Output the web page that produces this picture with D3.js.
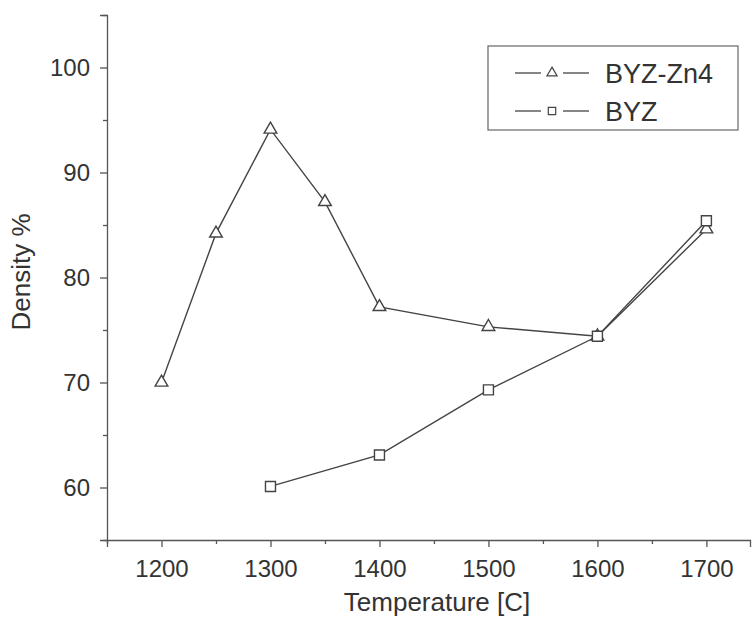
<!DOCTYPE html>
<html>
<head>
<meta charset="utf-8">
<script src="https://cdn.jsdelivr.net/npm/d3@7"></script>
<style>
  body { margin: 0; background: #fff; }
  svg text { font-family: 'Liberation Sans', Arial, sans-serif; fill: #333; }
</style>
</head>
<body>
<div id="chart"></div>
<script>
// Data
const tempsZn4 = [1200, 1250, 1300, 1350, 1400, 1500, 1600, 1700]
const densityZn4 = [70.0, 84.2, 94.1, 87.2, 77.2, 75.3, 74.4, 84.6]
const tempsByz = [1300, 1400, 1500, 1600, 1700]
const densityByz = [60.1, 63.1, 69.3, 74.4, 85.4]
const seriesNames = ['BYZ-Zn4', 'BYZ']
const xMajorTicks = [1200, 1300, 1400, 1500, 1600, 1700]
const xMinorTicks = [1150, 1250, 1350, 1450, 1550, 1650]
const yMajorTicks = [60, 70, 80, 90, 100]
const yMinorTicks = [55, 65, 75, 85, 95, 105]

const width = 754, height = 618
const ink = '#444'

const svg = d3.select('#chart').append('svg')
    .attr('width', width).attr('height', height)

const x = d3.scaleLinear().domain([1150, 1740]).range([107, 750])
const y = d3.scaleLinear().domain([55, 105]).range([540, 15])

// X axis
const xAxis = svg.append('g').attr('transform', `translate(0,${y(55)})`)
xAxis.call(d3.axisBottom(x).tickValues(xMajorTicks).tickSize(7).tickPadding(13).tickFormat(d3.format('d')))
xAxis.append('g').call(d3.axisBottom(x).tickValues(xMinorTicks).tickSize(4).tickFormat(''))
    .select('.domain').remove()
xAxis.selectAll('text').attr('font-size', '24px').attr('fill', '#333')

// Y axis
const yAxis = svg.append('g').attr('transform', `translate(${x(1150)},0)`)
yAxis.call(d3.axisLeft(y).tickValues(yMajorTicks).tickSize(7).tickPadding(10))
yAxis.append('g').call(d3.axisLeft(y).tickValues(yMinorTicks).tickSize(4).tickFormat(''))
    .select('.domain').remove()
yAxis.selectAll('text').attr('font-size', '24px').attr('fill', '#333')

svg.selectAll('.domain, .tick line').attr('stroke', '#555').attr('stroke-width', 1.3)

// Axis titles
svg.append('text')
    .attr('x', 437).attr('y', 611)
    .attr('text-anchor', 'middle').attr('font-size', '26px')
    .text('Temperature [C]')

svg.append('text')
    .attr('transform', 'translate(30,272) rotate(-90)')
    .attr('text-anchor', 'middle').attr('font-size', '26px')
    .text('Density %')

// Lines
const line = d3.line().x(d => x(d[0])).y(d => y(d[1]))
const zn4 = tempsZn4.map((t, i) => [t, densityZn4[i]])
const byz = tempsByz.map((t, i) => [t, densityByz[i]])

svg.append('path').datum(zn4).attr('d', line)
    .attr('fill', 'none').attr('stroke', ink).attr('stroke-width', 1.4)
svg.append('path').datum(byz).attr('d', line)
    .attr('fill', 'none').attr('stroke', ink).attr('stroke-width', 1.4)

const tri = d3.symbol().type(d3.symbolTriangle).size(70)
const sq = d3.symbol().type(d3.symbolSquare).size(100)

svg.selectAll('.tri').data(zn4).enter().append('path')
    .attr('transform', d => `translate(${x(d[0])},${y(d[1])})`)
    .attr('d', tri).attr('fill', '#fff').attr('stroke', ink).attr('stroke-width', 1.4)
svg.selectAll('.sq').data(byz).enter().append('path')
    .attr('transform', d => `translate(${x(d[0])},${y(d[1])})`)
    .attr('d', sq).attr('fill', '#fff').attr('stroke', ink).attr('stroke-width', 1.4)

// Legend
const legend = svg.append('g')
legend.append('rect')
    .attr('x', 488).attr('y', 46).attr('width', 250).attr('height', 84)
    .attr('fill', '#fff').attr('stroke', '#666').attr('stroke-width', 1.2)
const legTri = d3.symbol().type(d3.symbolTriangle).size(45)
const legSq = d3.symbol().type(d3.symbolSquare).size(55)
const rows = [{ name: seriesNames[0], sym: legTri, y: 73 }, { name: seriesNames[1], sym: legSq, y: 111 }]
rows.forEach(r => {
    legend.append('line').attr('x1', 515).attr('x2', 541).attr('y1', r.y).attr('y2', r.y)
        .attr('stroke', ink).attr('stroke-width', 1.3)
    legend.append('line').attr('x1', 563).attr('x2', 589).attr('y1', r.y).attr('y2', r.y)
        .attr('stroke', ink).attr('stroke-width', 1.3)
    legend.append('path').attr('transform', `translate(552,${r.y})`)
        .attr('d', r.sym).attr('fill', '#fff')
        .attr('stroke', ink).attr('stroke-width', 1.2)
    legend.append('text').attr('x', 605).attr('y', r.y).attr('dy', '0.36em')
        .attr('font-size', '27px').text(r.name)
})
</script>
</body>
</html>
